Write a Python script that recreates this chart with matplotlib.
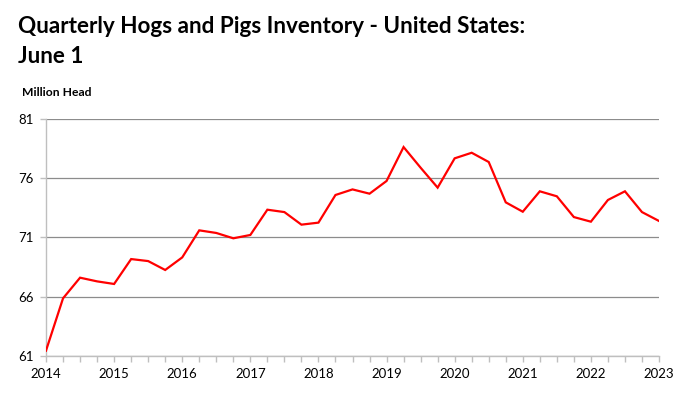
import matplotlib
matplotlib.use("Agg")
import matplotlib.pyplot as plt
import numpy as np

years = [2014, 2015, 2016, 2017, 2018, 2019, 2020, 2021, 2022, 2023]
yticks = [61, 66, 71, 76, 81]
inventory = [61.45, 65.86, 67.60, 67.29, 67.07, 69.17, 69.00, 68.25,
             69.31, 71.59, 71.37, 70.92, 71.20, 73.33, 73.13, 72.07,
             72.24, 74.57, 75.04, 74.68, 75.75, 78.61, 76.87, 75.19,
             77.66, 78.13, 77.35, 73.95, 73.16, 74.88, 74.46, 72.71,
             72.32, 74.15, 74.88, 73.13, 72.38]

x = years[0] + np.arange(len(inventory)) / 4.0

plt.rcParams['font.family'] = ['Lato', 'DejaVu Sans']

fig = plt.figure(figsize=(6.9, 3.98), dpi=100)
ax = fig.add_axes([46/690, 1 - 356/398, (659-46)/690, (356-118.7)/398])

ax.plot(x, inventory, color='#ff0000', lw=1.6, solid_joinstyle='miter', zorder=3)

ax.set_xlim(years[0], years[-1])
ax.set_ylim(yticks[0], yticks[-1])
ax.set_yticks(yticks)
ax.set_xticks(years)
ax.set_xticks(x, minor=True)
ax.grid(axis='y', color='#8c8c8c', lw=0.9)
ax.set_axisbelow(True)

for s in ['top', 'right']:
    ax.spines[s].set_visible(False)
for s in ['left', 'bottom']:
    ax.spines[s].set_color('#bfbfbf')
    ax.spines[s].set_linewidth(1.0)

ax.tick_params(axis='both', which='both', direction='out', length=4, color='#bfbfbf', width=1.0,
               labelsize=9.5, labelcolor='black')
ax.tick_params(axis='y', pad=5)
ax.tick_params(axis='x', pad=5)

fig.text(18/690, 1 - 33/398, "Quarterly Hogs and Pigs Inventory - United States:",
         fontsize=16.2, fontweight='bold', va='baseline', ha='left')
fig.text(18/690, 1 - 63/398, "June 1",
         fontsize=16.2, fontweight='bold', va='baseline', ha='left')
fig.text(22/690, 1 - 96/398, "Million Head",
         fontsize=8.7, fontweight='bold', va='baseline', ha='left')

fig.savefig("out.png", dpi=100)
